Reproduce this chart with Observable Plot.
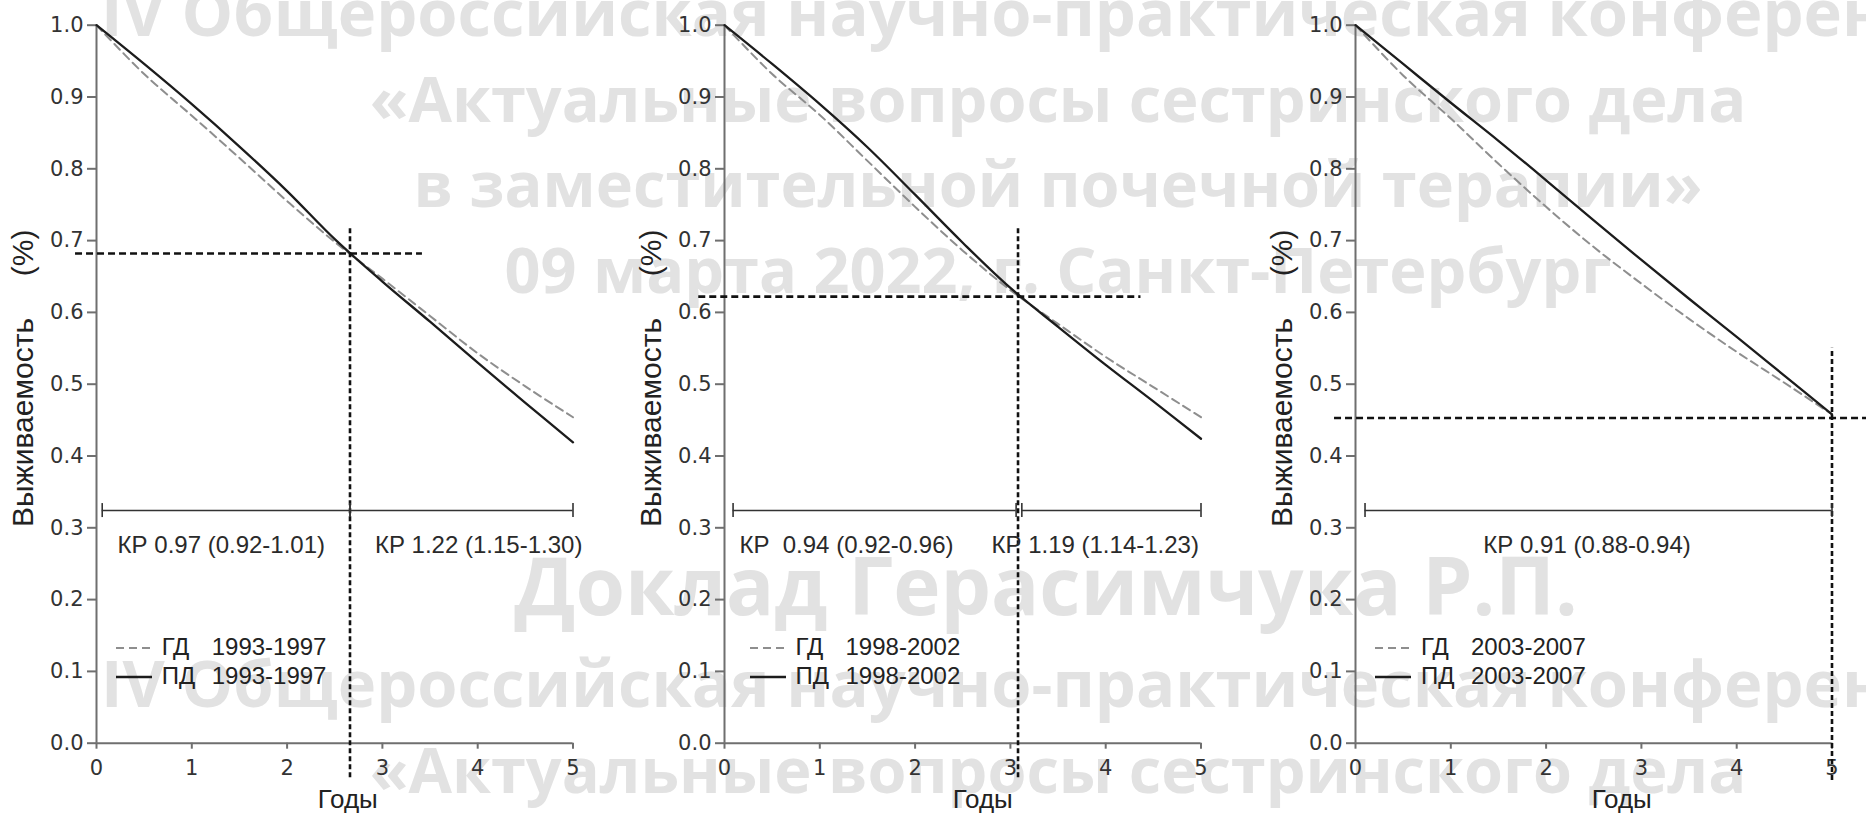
<!DOCTYPE html>
<html><head><meta charset="utf-8">
<script src="https://cdn.jsdelivr.net/npm/d3@7"></script>
<script src="https://cdn.jsdelivr.net/npm/@observablehq/plot@0.6"></script>
<style>
html,body{margin:0;padding:0;background:#fff;}
#root{position:relative;width:1866px;height:822px;overflow:hidden;background:#fff;}
#root > svg, #root > .panel{position:absolute;top:0;}
.lg{position:absolute;font-family:"Liberation Sans",Arial,sans-serif;font-size:24px;line-height:28px;color:#222;white-space:pre;}
</style></head><body><div id="root"></div>
<script>
// ---------- data ----------
const years = [0, 0.5, 1, 1.5, 2, 2.5, 3, 3.5, 4, 4.5, 5];
const gd1993 = [1.0, 0.932, 0.874, 0.815, 0.755, 0.698, 0.647, 0.595, 0.543, 0.497, 0.454];
const pd1993 = [1.0, 0.946, 0.890, 0.831, 0.769, 0.702, 0.643, 0.587, 0.530, 0.474, 0.419];
const gd1998 = [1.0, 0.932, 0.875, 0.811, 0.747, 0.686, 0.631, 0.584, 0.538, 0.496, 0.454];
const pd1998 = [1.0, 0.946, 0.890, 0.830, 0.764, 0.697, 0.634, 0.580, 0.527, 0.476, 0.424];
const gd2003 = [1.0, 0.930, 0.870, 0.807, 0.747, 0.691, 0.640, 0.591, 0.545, 0.502, 0.458];
const pd2003 = [1.0, 0.946, 0.892, 0.839, 0.784, 0.728, 0.673, 0.619, 0.566, 0.512, 0.458];
const periods = ["1993-1997", "1998-2002", "2003-2007"];
const seriesCodes = ["ГД", "ПД"];

// reference (crossing) lines per panel
const crossT = [2.66, 3.08, 5.0];
const crossS = [0.682, 0.622, 0.453];
const hLineFrom = [-0.22, -0.27, -0.22];
const hLineTo = [3.42, 4.37, 5.6];
const vLineFrom = [-0.048, -0.048, -0.052];
const vLineTo = [0.72, 0.72, 0.55];

// hazard-ratio intervals
const hrPanel = [0, 0, 1, 1, 2];
const hrFrom = [0.06, 2.66, 0.09, 3.12, 0.10];
const hrTo = [2.66, 5.0, 3.06, 5.0, 5.0];
const hrText = ["КР 0.97 (0.92-1.01)", "КР 1.22 (1.15-1.30)", "КР\u00a0\u00a00.94 (0.92-0.96)", "КР 1.19 (1.14-1.23)", "КР 0.91 (0.88-0.94)"];
const hrTextAt = [1.31, 4.01, 1.28, 3.89, 2.43];
const hrLevel = 0.324;
const hrTextLevel = 0.275;

const xTicks = [0, 1, 2, 3, 4, 5];
const yTicks = [0, 0.1, 0.2, 0.3, 0.4, 0.5, 0.6, 0.7, 0.8, 0.9, 1.0];
const xLabel = "Годы";
const yLabel = "Выживаемость\u00a0\u00a0\u00a0\u00a0\u00a0(%)";

const watermarkLines = ["IV Общероссийская научно-практическая конференция", "«Актуальные вопросы сестринского дела", "в заместительной почечной терапии»", "09 марта 2022, г. Санкт-Петербург"];
const watermarkAuthor = "Доклад Герасимчука Р.П.";

// ---------- layout ----------
const root = document.getElementById("root");
const W = 1866, H = 822;
const ML = 96, MT = 24.7, MB = 79.3, FRAME = 476.5;
const axisX = [95.7, 723.5, 1355];
const marginRights = [60, 60, W - 1355 - FRAME];
const xLabelDx = [13, 20, 28];
const legendDx = [20, 26, 20];
const legendRows = [648, 677];

// watermark (background)
const wm = d3.create("svg").attr("width", W).attr("height", H)
  .style("left", "0px")
  .attr("font-family", "'Open Sans', sans-serif").attr("font-weight", 700)
  .attr("fill", "#e2e2e2").attr("text-anchor", "middle");
const tileBase = [36, 122, 207, 293];
[0, 671].forEach(off => {
  watermarkLines.forEach((t, i) => {
    wm.append("text").attr("x", 1058).attr("y", tileBase[i] + off).attr("font-size", i === 0 ? 65 : 63).text(t);
  });
  wm.append("text").attr("x", 1046).attr("y", 615 + off).attr("font-size", 80).text(watermarkAuthor);
});
root.appendChild(wm.node());

const gdAll = [gd1993, gd1998, gd2003];
const pdAll = [pd1993, pd1998, pd2003];

for (let p = 0; p < 3; p++) {
  const curves = [];
  years.forEach((t, i) => {
    curves.push({t, s: gdAll[p][i], code: seriesCodes[0]});
    curves.push({t, s: pdAll[p][i], code: seriesCodes[1]});
  });
  const gd = curves.filter(d => d.code === seriesCodes[0]);
  const pd = curves.filter(d => d.code === seriesCodes[1]);
  const cross = [{t: crossT[p], s: crossS[p], h1: hLineFrom[p], h2: hLineTo[p], v1: vLineFrom[p], v2: vLineTo[p]}];
  const hr = hrPanel.map((q, i) => ({q, from: hrFrom[i], to: hrTo[i], text: hrText[i], at: hrTextAt[i]})).filter(d => d.q === p);
  const caps = hr.flatMap(d => [d.from, d.to]);
  const width = ML + FRAME + marginRights[p];

  const chart = Plot.plot({
    width, height: H,
    marginLeft: ML, marginRight: marginRights[p], marginTop: MT, marginBottom: MB,
    x: {domain: [0, 5]},
    y: {domain: [0, 1]},
    style: {background: "transparent", fontFamily: "'DejaVu Sans', sans-serif", overflow: "visible"},
    marks: [
      Plot.ruleX([0], {stroke: "#6f6f6f", strokeWidth: 2}),
      Plot.ruleY([0], {stroke: "#6f6f6f", strokeWidth: 2}),
      Plot.axisY({ticks: yTicks, tickSize: 9, tickPadding: 4, tickFormat: d3.format(".1f"), fontSize: 21, stroke: "#6f6f6f", strokeWidth: 2, fill: "#333", label: null}),
      Plot.axisX({ticks: xTicks, tickSize: 6, tickPadding: 11, tickFormat: d3.format("d"), fontSize: 21, stroke: "#6f6f6f", strokeWidth: 2, fill: "#333", label: null}),
      Plot.line(gd, {x: "t", y: "s", stroke: "#8e8e8e", strokeWidth: 2, strokeDasharray: "8,5", curve: "catmull-rom"}),
      Plot.line(pd, {x: "t", y: "s", stroke: "#1c1c1c", strokeWidth: 2.3, curve: "catmull-rom"}),
      Plot.ruleY(cross, {y: "s", x1: "h1", x2: "h2", stroke: "#111", strokeWidth: 2.6, strokeDasharray: "7,4"}),
      Plot.ruleX(cross, {x: "t", y1: "v1", y2: "v2", stroke: "#111", strokeWidth: 2.6, strokeDasharray: "5,3"}),
      Plot.ruleY(hr, {y: () => hrLevel, x1: "from", x2: "to", stroke: "#333", strokeWidth: 1.6}),
      Plot.ruleX(caps, {x: d => d, y1: () => hrLevel, y2: () => hrLevel, insetTop: -7, insetBottom: -7, stroke: "#333", strokeWidth: 1.6}),
      Plot.text(hr, {x: "at", y: () => hrTextLevel, text: "text", fontSize: 24, fontFamily: "'Liberation Sans', Arial, sans-serif", fill: "#2a2a2a"}),
      Plot.text([xLabel], {text: d => d, frameAnchor: "bottom", textAnchor: "middle", dx: xLabelDx[p], dy: 65, fontSize: 26, fontFamily: "'Liberation Sans', Arial, sans-serif", fill: "#222"}),
      Plot.text([yLabel], {text: d => d, frameAnchor: "left", textAnchor: "middle", rotate: -90, lineAnchor: "bottom", dx: -64, dy: -6, fontSize: 30, fontFamily: "'Liberation Sans', Arial, sans-serif", fill: "#222"})
    ]
  });
  chart.classList.add("panel");
  chart.style.left = (axisX[p] - ML) + "px";
  chart.style.position = "absolute";
  chart.style.top = "0px";
  root.appendChild(chart);

  // legend (inside the panel, bottom-left)
  seriesCodes.forEach((code, r) => {
    const y = legendRows[r];
    const x0 = axisX[p] + legendDx[p];
    const sw = d3.create("svg").attr("width", 36).attr("height", 6)
      .style("position", "absolute").style("left", x0 + "px").style("top", (y - 3) + "px");
    sw.append("line").attr("x1", 0).attr("x2", 36).attr("y1", 3).attr("y2", 3)
      .attr("stroke", r === 0 ? "#8e8e8e" : "#1c1c1c").attr("stroke-width", r === 0 ? 2 : 2.3)
      .attr("stroke-dasharray", r === 0 ? "8,5" : null);
    root.appendChild(sw.node());
    const c = document.createElement("div");
    c.className = "lg"; c.textContent = code;
    c.style.left = (x0 + 46) + "px"; c.style.top = (y - 15) + "px";
    root.appendChild(c);
    const yr = document.createElement("div");
    yr.className = "lg"; yr.textContent = periods[p];
    yr.style.left = (x0 + 96) + "px"; yr.style.top = (y - 15) + "px";
    root.appendChild(yr);
  });
}
</script></body></html>
